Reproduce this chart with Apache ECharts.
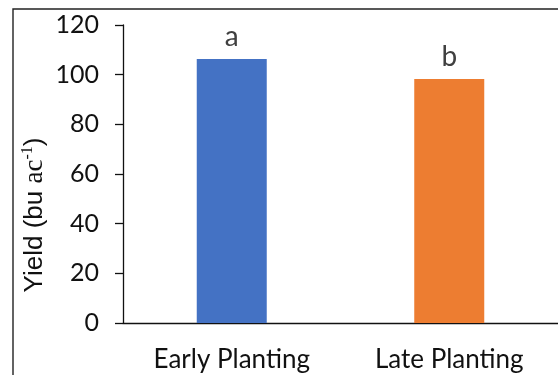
<!DOCTYPE html>
<html>
<head>
<meta charset="utf-8">
<script src="https://cdn.jsdelivr.net/npm/echarts@6/dist/echarts.min.js"></script>
<style>
  html, body { margin: 0; padding: 0; background: #fff; }
  #chart { width: 558px; height: 375px; }
</style>
</head>
<body>
<div id="chart"></div>
<script>
// Yield by planting date
const categories = ['Early Planting', 'Late Planting'];
const yieldValues = [106.3, 98.3];
const letters = ['a', 'b'];
const barColors = ['#4472C4', '#ED7D31'];
const yTicks = { min: 0, max: 120, interval: 20 };

const chart = echarts.init(document.getElementById('chart'), null, { renderer: 'canvas' });

const tickFont = 'Lato, "Open Sans", sans-serif';
const sansFont = '"Liberation Sans", Arial, sans-serif';
const serifFont = '"Liberation Serif", "Times New Roman", serif';

chart.setOption({
  animation: false,
  backgroundColor: '#fff',
  graphic: [{
    type: 'rect',
    shape: { x: 13, y: 9, width: 700, height: 500 },
    style: { fill: 'none', stroke: '#222', lineWidth: 1.4 },
    silent: true,
    z: 0
  }, {
    // rotated axis title with superscript unit exponent
    type: 'text',
    x: 35,
    y: 215,
    rotation: Math.PI / 2,
    silent: true,
    style: {
      text: '{n|Yield (bu }{s|ac}{sup|-1}{n|)}',
      align: 'center',
      verticalAlign: 'middle',
      rich: {
        n: { fontFamily: sansFont, fontSize: 26, fill: '#111' },
        s: { fontFamily: serifFont, fontSize: 27, fill: '#111' },
        sup: { fontFamily: serifFont, fontSize: 16, fill: '#111', padding: [0, 0, 14, 0] }
      }
    }
  }],
  grid: { left: 123, top: 25, width: 446, bottom: 52 },
  xAxis: {
    type: 'category',
    data: categories,
    axisLine: { show: true, lineStyle: { color: '#111', width: 1.3 } },
    axisTick: { show: false },
    axisLabel: { color: '#111', fontFamily: tickFont, fontSize: 26, margin: 24 }
  },
  yAxis: {
    type: 'value',
    min: yTicks.min,
    max: yTicks.max,
    interval: yTicks.interval,
    splitLine: { show: false },
    axisLine: { show: true, lineStyle: { color: '#111', width: 1.3 } },
    axisTick: { show: true, length: 8, lineStyle: { color: '#111', width: 1.3 } },
    axisLabel: { color: '#111', fontFamily: tickFont, fontSize: 25, margin: 24 }
  },
  series: [{
    type: 'bar',
    barWidth: 70,
    data: yieldValues.map((v, i) => ({ value: v, itemStyle: { color: barColors[i] } })),
    label: {
      show: true,
      position: 'top',
      distance: 8,
      color: '#404040',
      fontFamily: tickFont,
      fontSize: 28,
      formatter: p => letters[p.dataIndex]
    }
  }]
});
</script>
</body>
</html>
